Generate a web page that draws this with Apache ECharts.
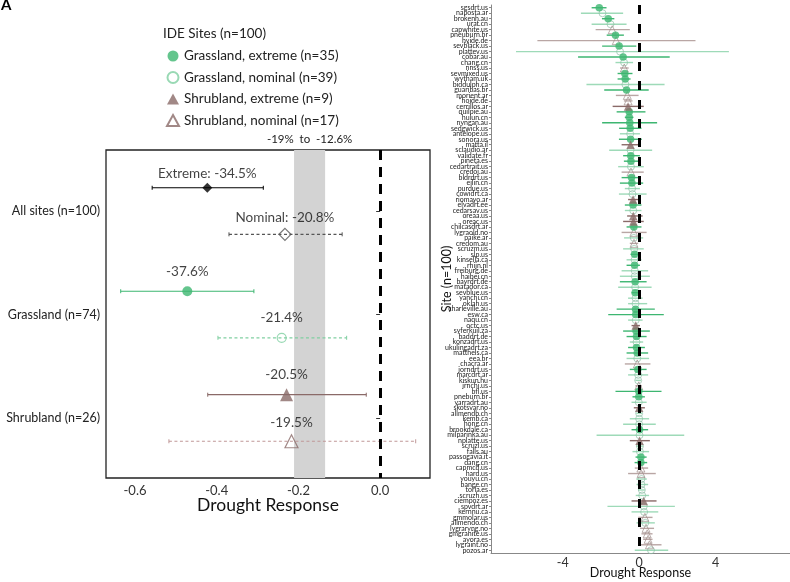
<!DOCTYPE html>
<html>
<head>
<meta charset="utf-8">
<script src="https://cdn.jsdelivr.net/npm/echarts@6/dist/echarts.min.js"></script>
<style>
  html, body { margin: 0; padding: 0; background: #fff; }
  #chart { width: 790px; height: 582px; }
</style>
</head>
<body>
<div id="chart"></div>
<script>
// ---- left panel: pooled drought responses (log response ratio) ----
const groupNames = ['All sites (n=100)', 'Grassland (n=74)', 'Shrubland (n=26)'];
const extremeEst = [-0.423, -0.472, -0.229];
const extremeLo = [-0.558, -0.635, -0.422];
const extremeHi = [-0.286, -0.309, -0.034];
const extremeLabels = ['Extreme: -34.5%', '-37.6%', '-20.5%'];
const nominalEst = [-0.233, -0.241, -0.217];
const nominalLo = [-0.370, -0.397, -0.517];
const nominalHi = [-0.093, -0.082, 0.087];
const nominalLabels = ['Nominal: -20.8%', '-21.4%', '-19.5%'];
const legendNames = ['Grassland, extreme (n=35)', 'Grassland, nominal (n=39)',
  'Shrubland, extreme (n=9)', 'Shrubland, nominal (n=17)'];
const bandRange = [-0.2107, -0.1347];
const bandLabel = '-19%  to  -12.6%';
const leftTicks = [-0.6, -0.4, -0.2, 0];

// ---- right panel: per-site responses ----
const sites = ['sgsdrt.us', 'naposta.ar', 'brokenh.au', 'urat.cn', 'capwhite.us', 'pneuburn.br', 'hyide.de',
  'sevblack.us', 'plattev.us', 'cobar.au', 'chang.cn', 'nnss.us', 'sevmixed.us', 'wytham.uk', 'biddulph.ca',
  'guaribas.br', 'morient.ar', '*hoide.de', 'cerrillos.ar', 'quilpie.au', 'hulun.cn', 'nyngan.au', 'sedgwick.us',
  'antelope.us', 'sonora.us', 'matta.il', 'sclaudio.ar', 'validate.fr', 'pineta.es', 'cedartrait.us', 'credoj.au',
  'bldrdrt.us', 'eilin.cn', 'purdue.us', 'cowidrt.ca', 'riomayo.ar', 'elvadrt.ee', 'cedarsav.us', 'oreaa.us',
  'oreac.us', 'chilcasdrt.ar', 'lygraold.no', 'paike.ar', 'credom.au', 'scruzm.us', 'slp.us', 'kinsella.ca',
  'rhijn.nl', 'freiburg.de', 'haibei.cn', 'bayrdrt.de', 'matador.ca', 'sevblue.us', 'yanchi.cn', 'oklah.us',
  'charleville.au', 'esw.ca', 'naqu.cn', 'octc.us', 'syferkuil.za', 'baddrt.de', 'konzadrt.us', 'ukulingadrt.za',
  'matthels.ca', 'eea.br', 'chacra.ar', 'jorndrt.us', 'marcdrt.ar', 'kiskun.hu', 'jrnchi.us', 'bfl.us',
  'pneburn.br', 'yarradrt.au', 'skotsvar.no', 'allmendb.ch', 'kemb.ca', 'hong.cn', 'brookdale.ca',
  'milparinka.au', 'nplatte.us', 'scruzl.us', 'falls.au', 'passogavia.it', 'dang.cn', 'capmcd.us', 'hard.us',
  'youyu.cn', 'bange.cn', 'torla.es', 'scruzh.us', 'ciempoz.es', 'spvdrt.ar', 'kernnu.ca', 'gmmolar.us',
  'allmendo.ch', 'lygraryng.no', 'gmgranite.us', 'ayora.es', 'lygraint.no', 'pozos.ar'];
// GE grassland extreme, GN grassland nominal, SE shrubland extreme, SN shrubland nominal
const siteType = ['GE', 'GN', 'GE', 'GN', 'SN', 'GE', 'SN', 'GE', 'GN', 'GE', 'GN', 'SN', 'GE', 'GE', 'GN',
  'GE', 'SN', 'SN', 'SE', 'GE', 'GE', 'GE', 'GE', 'GN', 'GE', 'SE', 'GN', 'GE', 'GE', 'GN', 'SN',
  'GE', 'GE', 'GN', 'GN', 'SE', 'GE', 'GN', 'SE', 'SE', 'GE', 'SN', 'GN', 'SN', 'GN', 'GE', 'GN',
  'GE', 'GN', 'GN', 'GE', 'GN', 'GE', 'GN', 'GN', 'GE', 'GE', 'GN', 'SE', 'GE', 'GE', 'GN', 'GE',
  'GE', 'GN', 'SN', 'GE', 'GN', 'GN', 'SN', 'GE', 'GE', 'GN', 'SE', 'GN', 'GN', 'GN', 'GE',
  'GN', 'SE', 'GN', 'GN', 'GE', 'GE', 'SN', 'SN', 'GN', 'GN', 'GN', 'GN', 'SE', 'GN', 'GN', 'SN',
  'GN', 'SN', 'SN', 'SN', 'SN', 'GN'];
const siteEst = [-2.09, -1.92, -1.62, -1.50, -1.41, -1.24, -1.20, -1.05, -1.00, -0.84, -0.79, -0.78, -0.75,
  -0.73, -0.72, -0.66, -0.62, -0.58, -0.58, -0.52, -0.52, -0.49, -0.47, -0.47, -0.45, -0.45, -0.45, -0.44,
  -0.43, -0.43, -0.43, -0.40, -0.38, -0.37, -0.35, -0.32, -0.32, -0.31, -0.31, -0.30, -0.28, -0.28, -0.28,
  -0.27, -0.26, -0.24, -0.24, -0.24, -0.23, -0.23, -0.21, -0.21, -0.21, -0.19, -0.19, -0.19, -0.18, -0.18,
  -0.18, -0.16, -0.14, -0.14, -0.14, -0.10, -0.10, -0.10, -0.07, -0.05, -0.05, -0.02, -0.02, -0.02, -0.02,
  0.00, 0.00, 0.00, 0.00, 0.02, 0.02, 0.02, 0.04, 0.04, 0.09, 0.09, 0.09, 0.10, 0.12, 0.12, 0.14, 0.16,
  0.24, 0.24, 0.26, 0.30, 0.32, 0.36, 0.42, 0.47, 0.54, 0.62];
const siteLo = [-2.49, -3.05, -1.95, -2.49, -2.28, -1.70, -5.33, -1.94, -6.45, -3.20, -1.24, -1.00, -1.13,
  -1.13, -2.76, -1.83, -1.22, -0.80, -1.39, -1.18, -0.75, -1.94, -1.05, -1.01, -1.06, -0.92, -1.57, -0.84,
  -0.80, -1.10, -0.92, -0.92, -1.01, -0.75, -1.06, -0.58, -0.75, -0.75, -0.63, -0.84, -0.66, -0.92, -0.79,
  -0.49, -0.84, -0.45, -0.66, -0.66, -0.92, -1.01, -1.01, -1.10, -0.40, -0.58, -0.58, -1.18, -1.62, -0.58,
  -0.40, -0.84, -0.66, -0.49, -0.58, -0.66, -0.66, -0.75, -0.49, -0.58, -0.20, -0.20, -1.24, -0.35, -0.40,
  -0.28, -0.15, -0.49, -0.84, -0.40, -2.23, -0.49, -0.15, -0.35, -0.19, -0.24, -0.23, -0.58, -0.15, -0.14,
  -0.05, -0.18, -0.40, -1.66, -0.40, -0.05, -0.14, 0.04, 0.12, 0.21, 0.04, -0.23];
const siteHi = [-1.71, -0.84, -1.30, -0.66, -0.49, -0.80, 2.95, -0.15, 4.70, 1.60, -0.32, -0.55, -0.35,
  -0.45, 1.33, 0.50, -0.03, -0.35, 0.24, 0.33, -0.30, 0.94, 0.12, 0.04, 0.14, 0.04, 0.68, 0.04,
  -0.05, 0.24, 0.24, 0.00, 0.21, 0.04, 0.39, 0.00, 0.12, 0.12, 0.18, 0.24, 0.12, 0.39, 0.21,
  -0.05, 0.24, -0.05, 0.12, 0.04, 0.47, 0.56, 0.39, 0.65, 0.04, 0.18, 0.42, 0.82, 1.29, 0.18,
  0.04, 0.56, 0.39, 0.21, 0.30, 0.47, 0.52, 0.59, 0.39, 0.47, 0.10, 0.15, 1.17, 0.30, 0.39,
  0.30, 0.15, 0.52, 0.87, 0.47, 2.36, 0.56, 0.20, 0.52, 0.39, 0.42, 0.47, 0.87, 0.40, 0.47,
  0.30, 0.52, 0.91, 1.87, 1.00, 0.70, 0.82, 0.78, 0.70, 0.70, 1.17, 1.52];
const rightTicks = [-4, 0, 4];

// ---- styling ----
const FONT = 'Lato, "Open Sans", sans-serif';
const GREEN = '#3db671';
const GREEN_LIGHT = '#80cfa1';
const BROWN = '#8a6a68';
const BROWN_LIGHT = '#c09898';
const ROW_OFF = 0.225;

const kindStyle = [
  { ext: '#000', nom: '#555', symbol: 'diamond', extSize: 10, nomSize: 12 },
  { ext: GREEN, nom: GREEN_LIGHT, symbol: 'circle', extSize: 10, nomSize: 9 },
  { ext: BROWN, nom: BROWN_LIGHT, symbol: 'triangle', extSize: 13, nomSize: 13 }
];
const seriesNames = [
  ['All sites, extreme', 'All sites, nominal'],
  [legendNames[0], legendNames[1]],
  [legendNames[2], legendNames[3]]
];
const labelOffset = [[-14, -17], [-20, -20], [-20, -19]];

const leftRows = [];
groupNames.forEach((g, i) => {
  leftRows.push({ kind: i, nominal: false, est: extremeEst[i], lo: extremeLo[i], hi: extremeHi[i],
    y: i + 1 - ROW_OFF, label: extremeLabels[i] });
  leftRows.push({ kind: i, nominal: true, est: nominalEst[i], lo: nominalLo[i], hi: nominalHi[i],
    y: i + 1 + ROW_OFF, label: nominalLabels[i] });
});

function leftBar(params, api) {
  const row = leftRows[api.value(3)];
  const a = api.coord([api.value(0), api.value(2)]);
  const b = api.coord([api.value(1), api.value(2)]);
  const st = kindStyle[row.kind];
  const stroke = row.nominal ? st.nom : st.ext;
  const style = { stroke: stroke, lineWidth: 1.2, lineDash: row.nominal ? [3, 2.5] : null };
  const cap = { stroke: stroke, lineWidth: 1 };
  return {
    type: 'group',
    children: [
      { type: 'line', shape: { x1: a[0], y1: a[1], x2: b[0], y2: b[1] }, style: style },
      { type: 'line', shape: { x1: a[0], y1: a[1] - 2, x2: a[0], y2: a[1] + 2 }, style: cap },
      { type: 'line', shape: { x1: b[0], y1: b[1] - 2, x2: b[0], y2: b[1] + 2 }, style: cap }
    ]
  };
}

const leftSeries = [{
  type: 'custom',
  xAxisIndex: 0,
  yAxisIndex: 0,
  renderItem: leftBar,
  encode: { x: [0, 1], y: 2 },
  data: leftRows.map((r, i) => [r.lo, r.hi, r.y, i]),
  z: 3,
  markArea: {
    silent: true,
    itemStyle: { color: '#d3d3d3' },
    label: { show: true, position: 'top', distance: 5, formatter: bandLabel,
      fontFamily: FONT, fontSize: 11.5, color: '#222' },
    data: [[{ xAxis: bandRange[0] }, { xAxis: bandRange[1] }]]
  },
  markLine: {
    silent: true,
    symbol: 'none',
    label: { show: false },
    lineStyle: { color: '#000', width: 3, type: [10, 7] },
    data: [{ xAxis: 0 }]
  }
}];

leftRows.forEach((r) => {
  const st = kindStyle[r.kind];
  const col = r.nominal ? st.nom : st.ext;
  leftSeries.push({
    type: 'scatter',
    name: seriesNames[r.kind][r.nominal ? 1 : 0],
    xAxisIndex: 0,
    yAxisIndex: 0,
    symbol: st.symbol,
    symbolSize: r.nominal ? st.nomSize : st.extSize,
    itemStyle: r.nominal
      ? { color: 'rgba(255,255,255,0)', borderColor: r.kind === 2 ? BROWN : col, borderWidth: 1.2 }
      : { color: col, borderColor: col, borderWidth: 0 },
    z: 5,
    label: {
      show: true,
      position: 'inside',
      offset: [0, labelOffset[r.kind][r.nominal ? 1 : 0]],
      formatter: r.label,
      fontFamily: FONT,
      fontSize: 13.5,
      color: '#111'
    },
    data: [[r.est, r.y]]
  });
});

// right panel (sites placed on a value axis by their row index)
const siteIndex = sites.map((s, i) => i);
const typeStyle = {
  GE: { symbol: 'circle', size: 7.5, fill: GREEN, border: GREEN, line: GREEN },
  GN: { symbol: 'circle', size: 7, fill: 'rgba(255,255,255,0)', border: 'rgba(140,190,165,0.85)', line: 'rgba(61,182,113,0.5)' },
  SE: { symbol: 'triangle', size: 8.5, fill: BROWN, border: BROWN, line: BROWN },
  SN: { symbol: 'triangle', size: 8, fill: 'rgba(255,255,255,0)', border: 'rgba(160,140,138,0.85)', line: 'rgba(138,106,104,0.6)' }
};

function siteBar(color) {
  return function (params, api) {
    const a = api.coord([api.value(0), api.value(2)]);
    const b = api.coord([api.value(1), api.value(2)]);
    return { type: 'line', shape: { x1: a[0], y1: a[1], x2: b[0], y2: b[1] },
      style: { stroke: color, lineWidth: 1.4 } };
  };
}

const rightSeries = [];
['GN', 'SN', 'GE', 'SE'].forEach((t) => {
  const idx = siteIndex.filter((i) => siteType[i] === t);
  const ts = typeStyle[t];
  rightSeries.push({
    type: 'custom',
    xAxisIndex: 1,
    yAxisIndex: 1,
    encode: { x: [0, 1], y: 2 },
    z: 2,
    renderItem: siteBar(ts.line),
    data: idx.map((i) => [siteLo[i], siteHi[i], i])
  });
  rightSeries.push({
    type: 'scatter',
    name: 'site ' + t,
    xAxisIndex: 1,
    yAxisIndex: 1,
    symbol: ts.symbol,
    symbolSize: ts.size,
    z: 4,
    itemStyle: { color: ts.fill, borderColor: ts.border, borderWidth: t[1] === 'N' ? 1 : 0 },
    data: idx.map((i) => [siteEst[i], i])
  });
});
rightSeries[rightSeries.length - 1].markLine = {
  silent: true,
  symbol: 'none',
  label: { show: false },
  lineStyle: { color: '#000', width: 3, type: [9, 10] },
  data: [{ xAxis: 0 }]
};

const option = {
  animation: false,
  backgroundColor: '#fff',
  textStyle: { fontFamily: FONT },
  title: {
    text: 'IDE Sites (n=100)',
    left: 158,
    top: 22,
    textStyle: { fontFamily: FONT, fontSize: 13.5, fontWeight: 'normal', color: '#222' }
  },
  graphic: [{
    type: 'text', left: 1, top: -2,
    style: { text: 'A', font: 'bold 15px ' + FONT, fill: '#000' }
  }],
  legend: {
    orient: 'vertical',
    left: 161,
    top: 44,
    itemWidth: 12,
    itemHeight: 11,
    itemGap: 7.5,
    textStyle: { fontFamily: FONT, fontSize: 13.5, color: '#222' },
    data: legendNames
  },
  grid: [
    { left: 106, top: 150, width: 324, height: 328, show: true, borderColor: '#222', borderWidth: 1.3,
      backgroundColor: 'transparent', outerBoundsMode: 'none' },
    { left: 491, top: 5, width: 299, height: 548, outerBoundsMode: 'none' }
  ],
  xAxis: [
    {
      type: 'value', gridIndex: 0, min: -0.671, max: 0.122,
      name: 'Drought Response', nameLocation: 'middle', nameGap: 18, nameMoveOverlap: false,
      nameTextStyle: { fontFamily: FONT, fontSize: 17.5, color: '#111', verticalAlign: 'top' },
      axisLine: { show: false }, axisTick: { show: false }, splitLine: { show: false },
      axisLabel: { customValues: leftTicks, formatter: (v) => v.toFixed(1), fontSize: 13, color: '#333', margin: 6 }
    },
    {
      type: 'value', gridIndex: 1, min: -7.76, max: 7.9,
      name: 'Drought Response', nameLocation: 'middle', nameGap: 13, nameMoveOverlap: false,
      nameTextStyle: { fontFamily: FONT, fontSize: 12.5, color: '#111', verticalAlign: 'top' },
      axisLine: { show: true, onZero: false, lineStyle: { color: '#888', width: 1 } },
      axisTick: { show: false }, splitLine: { show: false },
      axisLabel: { customValues: rightTicks, fontSize: 12.5, color: '#333', margin: 3 }
    }
  ],
  yAxis: [
    {
      type: 'value', gridIndex: 0, min: 0.41, max: 3.58, inverse: true,
      axisLine: { show: false }, splitLine: { show: false },
      axisTick: { show: true, customValues: [1, 2, 3], length: 4, lineStyle: { color: '#333' } },
      axisLabel: { customValues: [1, 2, 3], formatter: (v) => groupNames[Math.round(v) - 1],
        fontSize: 12.5, color: '#222', margin: 6 }
    },
    {
      // positions for the site marks (row index), no visible labels
      type: 'value', gridIndex: 1, position: 'left', min: -0.5, max: sites.length - 0.5, inverse: true,
      axisLine: { show: false }, axisTick: { show: false }, axisLabel: { show: false },
      splitLine: { show: false }
    },
    {
      // site names shown as category labels on the same rows
      type: 'category', gridIndex: 1, position: 'left', offset: 0, data: sites, inverse: true,
      name: 'Site (n=100)', nameLocation: 'middle', nameGap: 38, nameRotate: 90, nameMoveOverlap: false,
      nameTextStyle: { fontFamily: FONT, fontSize: 12.5, color: '#111' },
      axisLine: { show: true, lineStyle: { color: '#888', width: 1 } },
      axisTick: { show: true, length: 2, alignWithLabel: true, interval: 0, lineStyle: { color: '#888' } },
      axisLabel: { interval: 0, fontSize: 7, color: '#222', margin: 3 },
      splitLine: { show: false }
    }
  ],
  series: leftSeries.concat(rightSeries)
};

const chart = echarts.init(document.getElementById('chart'));
chart.setOption(option);
window.onresize = function () {
  chart.resize();
};
</script>
</body>
</html>
